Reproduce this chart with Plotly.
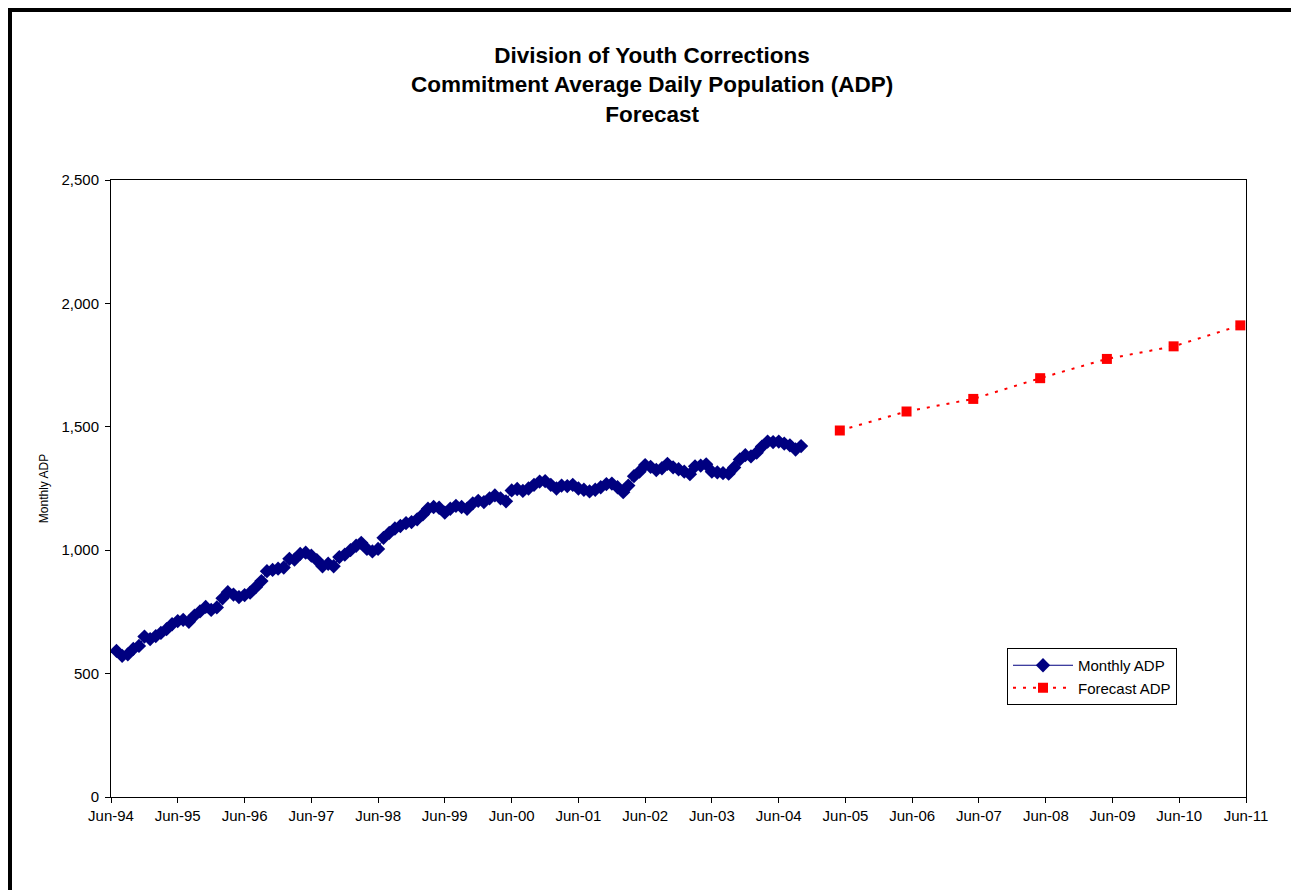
import pandas as pd
import plotly.graph_objects as go

# Monthly ADP, Jul-94 .. Oct-04
monthly_start = "1994-07-01"
monthly_adp = [
    592, 572, 578, 600, 612, 650, 640, 652, 665, 680, 700, 713,
    718, 710, 735, 752, 770, 758, 768, 805, 830, 820, 810, 818,
    828, 850, 875, 915, 920, 925, 930, 965, 962, 985, 990, 978,
    960, 935, 945, 935, 972, 982, 1000, 1018, 1030, 1005, 995, 1005,
    1050, 1070, 1088, 1098, 1110, 1114, 1125, 1145, 1168, 1175, 1172, 1152,
    1168, 1180, 1175, 1168, 1190, 1200, 1195, 1210, 1222, 1210, 1198, 1242,
    1248, 1240, 1250, 1265, 1278, 1280, 1265, 1250, 1262, 1260, 1265, 1250,
    1245, 1238, 1245, 1255, 1268, 1270, 1255, 1235, 1262, 1300, 1318, 1345,
    1338, 1325, 1332, 1350, 1336, 1328, 1318, 1308, 1340, 1343, 1348, 1318,
    1315, 1312, 1310, 1335, 1368, 1385, 1380, 1395, 1420, 1440, 1438, 1440,
    1432, 1425, 1408, 1422,
]
monthly_dates = pd.date_range(monthly_start, periods=len(monthly_adp), freq="MS")

forecast_dates = ["2005-05-01", "2006-05-01", "2007-05-01", "2008-05-01",
                  "2009-05-01", "2010-05-01", "2011-05-01"]
forecast_adp = [1485, 1562, 1613, 1697, 1775, 1826, 1911]

tick_dates = [f"{y}-06-01" for y in range(1994, 2012)]
tick_labels = ["Jun-94", "Jun-95", "Jun-96", "Jun-97", "Jun-98", "Jun-99",
               "Jun-00", "Jun-01", "Jun-02", "Jun-03", "Jun-04", "Jun-05",
               "Jun-06", "Jun-07", "Jun-08", "Jun-09", "Jun-10", "Jun-11"]

title_lines = ["Division of Youth Corrections",
               "Commitment Average Daily Population (ADP)",
               "Forecast"]

# page is offset by the 8px body margin
OFF = 8
W, H = 1291, 882
L, R, T, B = 111 - OFF, 1246 - OFF, 180 - OFF, 797 - OFF


def px_x(p):
    return (p - OFF - L) / (R - L)


def px_y(p):
    return (B - (p - OFF)) / (B - T)


FONT = "Liberation Sans, Arial, sans-serif"

fig = go.Figure()
fig.add_trace(go.Scatter(
    x=monthly_dates, y=monthly_adp, name="Monthly ADP",
    mode="lines+markers",
    line=dict(color="#000080", width=1),
    marker=dict(symbol="diamond", size=11, color="#000080"),
))
fig.add_trace(go.Scatter(
    x=forecast_dates, y=forecast_adp, name="Forecast ADP",
    mode="lines+markers",
    line=dict(color="#FF0000", width=2, dash="3px,7px"),
    marker=dict(symbol="square", size=10, color="#FF0000"),
))

fig.update_layout(
    width=W, height=H,
    margin=dict(l=L, r=W - R, t=T, b=H - B),
    paper_bgcolor="white", plot_bgcolor="white",
    font=dict(family=FONT, size=15, color="black"),
    showlegend=True,
    legend=dict(
        x=px_x(1007), y=px_y(648), xanchor="left", yanchor="top",
        bordercolor="black", borderwidth=1, bgcolor="white",
        font=dict(size=15), itemwidth=60, tracegroupgap=0,
    ),
)

fig.add_annotation(
    text="<b>" + "<br>".join(title_lines) + "</b>",
    xref="paper", yref="paper", x=px_x(652), y=px_y(85),
    xanchor="center", yanchor="middle", showarrow=False,
    font=dict(family=FONT, size=22.5, color="black"),
)

fig.update_xaxes(
    type="date", range=["1994-06-01", "2011-06-01"],
    tickvals=tick_dates, ticktext=tick_labels,
    showline=True, linecolor="black", linewidth=1, mirror=True,
    ticks="outside", ticklen=5, tickcolor="black",
    showgrid=False, zeroline=False,
    tickfont=dict(size=15),
)
fig.update_yaxes(
    range=[0, 2500], dtick=500, tickformat=",",
    showline=True, linecolor="black", linewidth=1, mirror=True,
    ticks="outside", ticklen=5, tickcolor="black",
    ticklabelstandoff=3,
    showgrid=False, zeroline=False,
    title=dict(text="Monthly ADP", font=dict(size=12), standoff=10),
    tickfont=dict(size=15),
)

# outer frame of the figure panel (bottom edge runs off the page)
fig.add_shape(type="rect", xref="paper", yref="paper",
              x0=px_x(OFF + 2), x1=px_x(1295), y0=px_y(960), y1=px_y(OFF + 2),
              line=dict(color="black", width=4), fillcolor="rgba(0,0,0,0)")

fig.write_html("out.html")
